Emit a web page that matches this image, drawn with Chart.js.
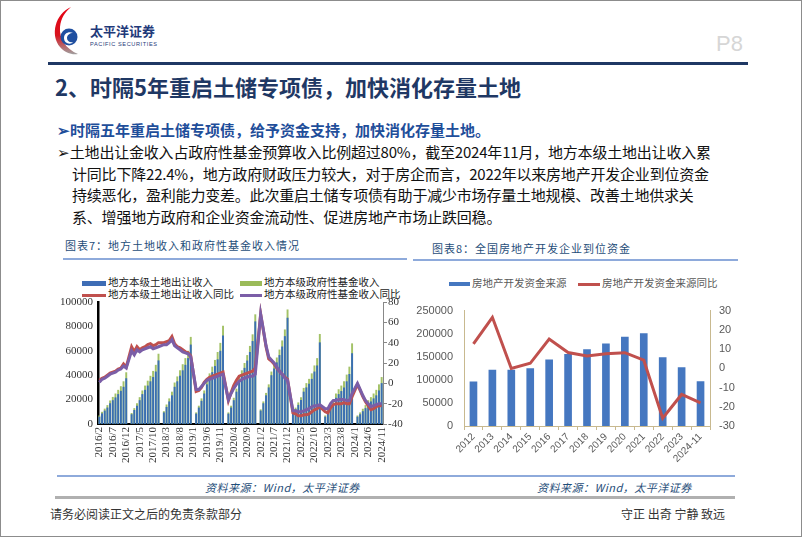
<!DOCTYPE html>
<html lang="zh">
  <head>
    <meta charset="UTF-8" />
    <title>地方土地收入与房地产开发企业到位资金</title>
    <style>
      html, body {
        margin: 0;
        padding: 0;
        background: #fff;
      }
      body {
        width: 802px;
        height: 537px;
        position: relative;
        overflow: hidden;
        font-family: "Noto Sans CJK SC", sans-serif;
      }
      .frame {
        position: absolute;
        left: 0; top: 0;
        width: 800px; height: 535px;
        border: 1px solid #8c8c8c;
      }
      .abs { position: absolute; white-space: nowrap; }
      .hline { position: absolute; }
      .title {
        left: 55px; top: 72px;
        font-size: 22px; line-height: 28px;
        font-weight: bold; color: #1f3864;
      }
      .p8 {
        left: 716px; top: 30px;
        font-size: 22px; line-height: 28px;
        color: #d6d6d6; font-family: "Liberation Sans", sans-serif;
      }
      .sub {
        left: 57px; top: 120px;
        font-size: 15px; line-height: 20px;
        font-weight: bold; color: #1f4e9a;
      }
      .para {
        left: 57px; top: 141px;
        font-size: 15px; line-height: 21.5px;
        color: #111; letter-spacing: -0.2px;
      }
      .para div { padding-left: 15px; }
      .para div.first { padding-left: 0; }
      .cap {
        font-size: 11px; line-height: 16px;
        color: #1f4e79; letter-spacing: 1px;
      }
      .src {
        font-size: 11px; line-height: 16px;
        color: #1f4e79; font-style: italic; letter-spacing: 0.5px;
      }
      .foot {
        font-size: 12px; line-height: 16px; color: #333;
      }
      .leg {
        position: absolute; white-space: nowrap;
        font-size: 10.5px; line-height: 14px;
      }
      .leg i {
        display: inline-block; vertical-align: middle;
        margin-right: 2px;
      }
      .c1 { position: absolute; left: 55px; top: 290px; width: 352px; height: 180px; }
      .c2 { position: absolute; left: 415px; top: 293px; width: 323px; height: 175px; }
    </style>
  </head>
  <body>
    <div class="frame"></div>

    <svg class="abs" style="left:45px;top:5px" width="130" height="52">
      <defs>
        <linearGradient id="sw" x1="0" y1="0" x2="0" y2="1">
          <stop offset="0" stop-color="#e60012" />
          <stop offset="0.6" stop-color="#d8141e" />
          <stop offset="1" stop-color="#a0a0a0" />
        </linearGradient>
      </defs>
      <path d="M26,2 C10,9 5,30 15,42 C20,48 27,50 33,49 C21,44 14,34 15,22 C16,13 20,7 26,2 Z" fill="url(#sw)" />
      <circle cx="24" cy="32" r="8.5" fill="#1f4fa0" />
      <path d="M19,33 C19,28 24,26 28,28 C25,28 22,30 22,33 C22,36 25,38 28,37 C26,40 19,39 19,33 Z" fill="#fff" />
      <text x="45" y="31" font-size="13" font-weight="bold" fill="#1f3a7a" font-family="Noto Sans CJK SC">太平洋证券</text>
      <text x="45" y="41" font-size="5.6" fill="#1f3a7a" font-family="Liberation Sans" letter-spacing="0.6">PACIFIC SECURITIES</text>
    </svg>
    <div class="abs p8">P8</div>
    <div class="hline" style="left:48px;top:62px;width:700px;height:2.5px;background:#1f3864"></div>

    <div class="abs title">2、时隔5年重启土储专项债，加快消化存量土地</div>
    <div class="abs sub">➢时隔五年重启土储专项债，给予资金支持，加快消化存量土地。</div>
    <div class="abs para">
      <div class="first">➢土地出让金收入占政府性基金预算收入比例超过80%，截至2024年11月，地方本级土地出让收入累</div>
      <div>计同比下降22.4%，地方政府财政压力较大，对于房企而言，2022年以来房地产开发企业到位资金</div>
      <div>持续恶化，盈利能力变差。此次重启土储专项债有助于减少市场存量土地规模、改善土地供求关</div>
      <div>系、增强地方政府和企业资金流动性、促进房地产市场止跌回稳。</div>
    </div>

    <div class="abs cap" style="left:65px;top:237px">图表7：地方土地收入和政府性基金收入情况</div>
    <div class="hline" style="left:63px;top:258px;width:344px;height:1.5px;background:#8eaadb"></div>
    <div class="abs cap" style="left:432px;top:240px">图表8：全国房地产开发企业到位资金</div>
    <div class="hline" style="left:413px;top:259px;width:325px;height:1.5px;background:#8eaadb"></div>

    <div class="leg" style="left:82px;top:275px;color:#222"><i style="width:24px;height:5px;background:#3e6db5"></i>地方本级土地出让收入</div>
    <div class="leg" style="left:240px;top:275px;color:#222"><i style="width:22px;height:5px;background:#9bbb59"></i>地方本级政府性基金收入</div>
    <div class="leg" style="left:82px;top:287px;color:#222"><i style="width:24px;height:3px;background:#c0504d"></i>地方本级土地出让收入同比</div>
    <div class="leg" style="left:240px;top:287px;color:#222"><i style="width:22px;height:3px;background:#7b5ea7"></i>地方本级政府性基金收入同比</div>

    <div class="leg" style="left:449px;top:276px;color:#595959"><i style="width:21px;height:4px;background:#4577c0"></i>房地产开发资金来源</div>
    <div class="leg" style="left:578px;top:276px;color:#595959"><i style="width:22px;height:3px;background:#c0504d"></i>房地产开发资金来源同比</div>

    <div class="c1"><canvas id="chart1"></canvas></div>
    <div class="c2"><canvas id="chart2"></canvas></div>

    <div class="hline" style="left:57px;top:475px;width:678px;height:1.5px;background:#8eaadb"></div>
    <div class="abs src" style="left:205px;top:479px">资料来源：Wind，太平洋证券</div>
    <div class="abs src" style="left:537px;top:479px">资料来源：Wind，太平洋证券</div>
    <div class="hline" style="left:55px;top:496px;width:680px;height:2.5px;background:#b0b0b0"></div>
    <div class="abs foot" style="left:50px;top:506px">请务必阅读正文之后的免责条款部分</div>
    <div class="abs foot" style="left:621px;top:506px">守正 出奇 宁静 致远</div>

    <script src="https://cdn.jsdelivr.net/npm/chart.js"></script>
    <script>
      // ---- chart 7: monthly cumulative, 2016/2 .. 2024/11 (January has no value) ----
      const years = [2016, 2017, 2018, 2019, 2020, 2021, 2022, 2023, 2024];
      const monthLabels = [];
      years.forEach(function (y) {
        for (let m = 1; m <= 12; m++) {
          if (y === 2016 && m < 2) continue;
          if (y === 2024 && m > 11) continue;
          monthLabels.push(y + "/" + m);
        }
      });

      // 地方本级土地出让收入 (亿元)
      const landIncome = [
        6000, 8700, 11000, 13500, 17000, 19500, 21800, 24500, 27200, 30500, 37500,
        null, 8000, 11500, 15000, 19500, 24500, 28000, 31500, 35000, 38500, 43000, 52100,
        null, 9500, 14000, 18500, 23500, 30500, 35000, 39500, 44000, 48500, 54000, 65100,
        null, 8500, 13500, 19000, 25000, 32500, 37500, 42500, 47500, 53000, 60000, 72600,
        null, 8500, 13500, 19500, 26500, 35500, 40500, 46000, 52000, 59000, 68000, 84100,
        null, 11000, 17000, 23500, 30000, 40000, 45500, 50500, 56500, 63500, 72000, 87100,
        null, 8500, 12000, 15700, 19600, 26500, 30000, 33000, 37000, 43000, 48000, 66900,
        null, 6000, 10000, 13000, 16000, 21500, 24500, 27000, 30000, 35000, 41000, 58000,
        null, 6000, 8000, 10500, 13000, 16500, 18500, 21000, 23500, 27500, 33500
      ];
      // 地方本级政府性基金收入 (亿元)
      const fundIncome = [
        7000, 10000, 12600, 15500, 19300, 22200, 25000, 28000, 31000, 35000, 42400,
        null, 9000, 13000, 17000, 22000, 27500, 31500, 35500, 39500, 43500, 48500, 57600,
        null, 10500, 16000, 21000, 26500, 34000, 39000, 44000, 49000, 54000, 60000, 71400,
        null, 9500, 15000, 21000, 27500, 36000, 41500, 47000, 52500, 59000, 66500, 80500,
        null, 9500, 15000, 21500, 29000, 38500, 44000, 50000, 56500, 64000, 73500, 89900,
        null, 12000, 18500, 25500, 32500, 43000, 49000, 54500, 61000, 68500, 77500, 93900,
        null, 9500, 13400, 17700, 22000, 29600, 33500, 37000, 41500, 48000, 54000, 73800,
        null, 7000, 11500, 15000, 18500, 25000, 28500, 31500, 35000, 40500, 47000, 66100,
        null, 7000, 9500, 12500, 15500, 19500, 22000, 25000, 28000, 32500, 38500
      ];
      // 同比 (%)
      const landYoY = [
        3, 5, 6, 8, 10, 11, 12, 14, 15, 19, 16,
        null, 36, 31, 36, 33, 35, 36, 38, 39, 37, 38, 40,
        null, 40, 41, 42, 46, 39, 36, 35, 33, 31, 30, 27,
        null, -8, -7, -4, 1, 4, 6, 7, 8, 9, 10, 11,
        null, -17, -9, -2, 3, 7, 8, 9, 10, 11, 12, 15,
        null, 68, 52, 36, 24, 22, 19, 15, 12, 9, 6, 4,
        null, -29, -30, -32, -32, -31, -31, -30, -28, -26, -25, -23,
        null, -28, -29, -24, -21, -20, -20, -20, -19, -20, -20, -13,
        null, -1, -7, -13, -18, -22, -26, -25, -23, -22, -22
      ];
      const fundYoY = [
        1, 4, 5, 7, 9, 10, 11, 13, 14, 17, 15,
        null, 32, 28, 33, 31, 33, 34, 35, 36, 34, 35, 36,
        null, 38, 38, 40, 43, 37, 35, 33, 31, 30, 29, 26,
        null, -6, -6, -3, 0, 3, 4, 5, 6, 7, 8, 9,
        null, -16, -10, -5, -1, 2, 4, 5, 6, 7, 7, 9,
        null, 68, 53, 37, 26, 23, 20, 16, 12, 9, 5, 3,
        null, -27, -27, -28, -28, -27, -26, -25, -23, -22, -22, -21,
        null, -25, -25, -20, -17, -17, -16, -16, -16, -17, -17, -10,
        null, 0, -6, -12, -17, -20, -23, -22, -21, -20, -20
      ];

      // ---- chart 8: yearly ----
      const fundYears = ["2012", "2013", "2014", "2015", "2016", "2017", "2018", "2019", "2020", "2021", "2022", "2023", "2024-11"];
      const devFunds = [96500, 122100, 122000, 125200, 144200, 156100, 166000, 178600, 193100, 201100, 149000, 127500, 97000];
      const devFundsYoY = [12.7, 26.5, -0.1, 2.6, 15.2, 8.2, 6.4, 7.6, 8.1, 4.2, -25.9, -13.6, -18.0];

      const serif = "'Liberation Serif', 'Noto Sans CJK SC', serif";
      const sans = "'Liberation Sans', 'Noto Sans CJK SC', sans-serif";
      const plain = function (v) { return String(v); };

      new Chart(document.getElementById("chart1"), {
        type: "bar",
        data: {
          labels: monthLabels,
          datasets: [
            {
              type: "line", label: "地方本级政府性基金收入同比", data: fundYoY,
              yAxisID: "y1", borderColor: "#7b5ea7", borderWidth: 3,
              pointRadius: 0, spanGaps: true, tension: 0, order: 0
            },
            {
              type: "line", label: "地方本级土地出让收入同比", data: landYoY,
              yAxisID: "y1", borderColor: "#c0504d", borderWidth: 3,
              pointRadius: 0, spanGaps: true, tension: 0, order: 1
            },
            {
              label: "地方本级土地出让收入", data: landIncome, yAxisID: "y", grouped: false,
              backgroundColor: "#3a6fb3", categoryPercentage: 1, barPercentage: 0.72, order: 2
            },
            {
              label: "地方本级政府性基金收入", data: fundIncome, yAxisID: "y", grouped: false,
              backgroundColor: "#a3c267", categoryPercentage: 1, barPercentage: 0.72, order: 3
            }
          ]
        },
        options: {
          responsive: true,
          maintainAspectRatio: false,
          animation: false,
          layout: { padding: { top: 12, left: 0, right: 0, bottom: 0 } },
          plugins: { legend: { display: false }, tooltip: { enabled: false } },
          scales: {
            x: {
              grid: { display: false, drawTicks: false },
              border: { color: "#000", width: 2 },
              ticks: {
                autoSkip: false, minRotation: 90, maxRotation: 90,
                color: "#333", font: { family: serif, size: 11 }, padding: 3,
                callback: function (v, i) { return i % 5 === 0 ? monthLabels[i] : ""; }
              },
              afterFit: function (s) { s.height = 46; }
            },
            y: {
              position: "left", min: 0, max: 100000,
              grid: { display: false, drawTicks: false },
              border: { color: "#000", width: 2.5 },
              ticks: { stepSize: 20000, color: "#333", font: { family: serif, size: 11 }, padding: 5, callback: plain },
              afterFit: function (s) { s.width = 43; }
            },
            y1: {
              position: "right", min: -40, max: 80,
              grid: { drawOnChartArea: false, tickLength: 4, color: "#888" },
              border: { color: "#888", width: 1 },
              ticks: { stepSize: 20, color: "#333", font: { family: serif, size: 11 }, padding: 1, callback: plain },
              afterFit: function (s) { s.width = 24; }
            }
          }
        }
      });

      new Chart(document.getElementById("chart2"), {
        type: "bar",
        data: {
          labels: fundYears,
          datasets: [
            {
              type: "line", label: "房地产开发资金来源同比", data: devFundsYoY,
              yAxisID: "y1", borderColor: "#c0504d", borderWidth: 3,
              pointRadius: 0, tension: 0, order: 0
            },
            {
              label: "房地产开发资金来源", data: devFunds, yAxisID: "y",
              backgroundColor: "#4577c0", categoryPercentage: 0.9, barPercentage: 0.45, order: 1
            }
          ]
        },
        options: {
          responsive: true,
          maintainAspectRatio: false,
          animation: false,
          layout: { padding: { top: 12, left: 0, right: 0, bottom: 0 } },
          plugins: { legend: { display: false }, tooltip: { enabled: false } },
          scales: {
            x: {
              grid: { drawOnChartArea: false, tickLength: 4, color: "#c8b98f" },
              border: { color: "#c8b98f", width: 1 },
              ticks: {
                autoSkip: false, minRotation: 45, maxRotation: 45,
                color: "#595959", font: { family: sans, size: 10 }, padding: 1
              },
              afterFit: function (s) { s.height = 42; }
            },
            y: {
              position: "left", min: 0, max: 250000,
              grid: { display: false, drawTicks: false },
              border: { color: "#c8b98f", width: 1 },
              ticks: { stepSize: 50000, color: "#595959", font: { family: sans, size: 11 }, padding: 11, callback: plain },
              afterFit: function (s) { s.width = 49; }
            },
            y1: {
              position: "right", min: -30, max: 30,
              grid: { display: false, drawTicks: false },
              border: { color: "#c8b98f", width: 1 },
              ticks: { stepSize: 10, color: "#595959", font: { family: sans, size: 11 }, padding: 9, callback: plain },
              afterFit: function (s) { s.width = 28; }
            }
          }
        }
      });
    </script>
  </body>
</html>
